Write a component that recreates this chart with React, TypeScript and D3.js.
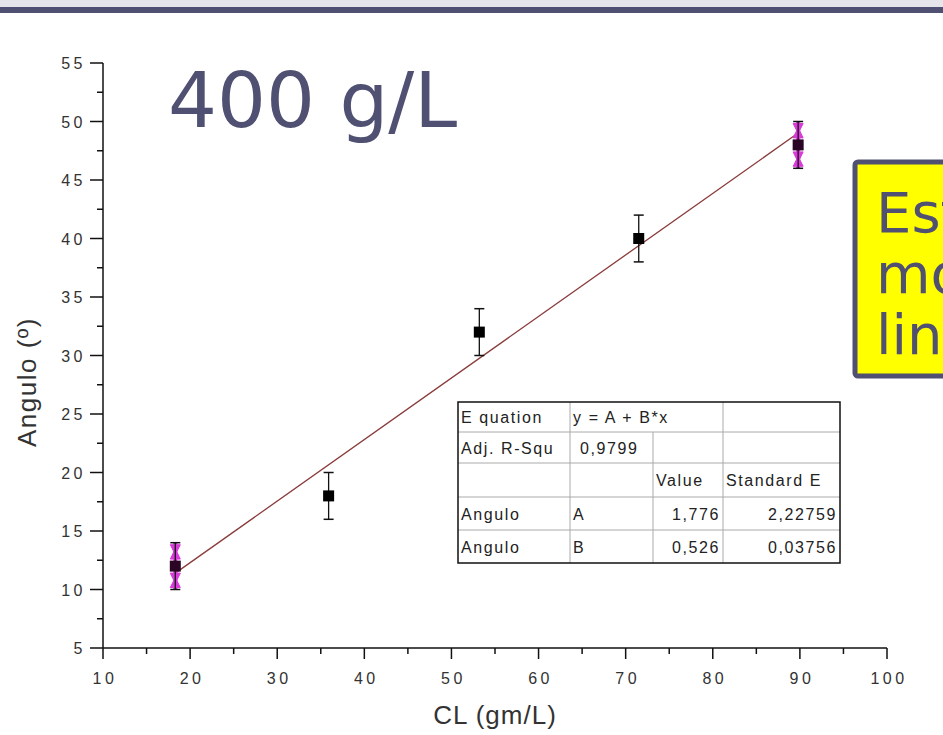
import React from "react";
import * as d3 from "d3";

// measured points
const cl = [18.3, 35.9, 53.2, 71.5, 89.8];
const angulo = [12, 18, 32, 40, 48];
const errs = [2, 2, 2, 2, 2];
const masked = [true, false, false, false, true];

// linear fit y = A + B*x
const fitA = 1.776;
const fitB = 0.526;

const xTicks = [10, 20, 30, 40, 50, 60, 70, 80, 90, 100];
const yTicks = [5, 10, 15, 20, 25, 30, 35, 40, 45, 50, 55];

const tableRows = [
  ["E quation", "y = A + B*x", "", ""],
  ["Adj. R-Squ", "0,9799", "", ""],
  ["", "", "Value", "Standard E"],
  ["Angulo", "A", "1,776", "2,22759"],
  ["Angulo", "B", "0,526", "0,03756"],
];

const noteLines = ["Este", "modelo", "lineal"];

const width = 943;
const height = 735;
const slate = "#4f5072";

const x = d3.scaleLinear().domain([10, 100]).range([103, 887]);
const y = d3.scaleLinear().domain([5, 55]).range([648, 63]);

const App = () => {
  const minorX = d3.range(15, 100, 10);
  const minorY = d3.range(7.5, 55, 5);
  const fitLine = d3
    .line<number>()
    .x((d) => x(d))
    .y((d) => y(fitA + fitB * d));

  const colX = [458, 570, 653, 723, 840];
  const rowY = [402, 432, 463, 497, 530, 563];
  const tick = { fill: "#333", fontSize: 16, fontFamily: "Liberation Sans, Arial", letterSpacing: 3.5 };

  return (
    <svg width={width} height={height} style={{ position: "absolute", left: 0, top: 0, background: "#fff" }}>
      <rect x={0} y={0} width={width} height={7} fill="#e6e6ea" />
      <rect x={0} y={7} width={width} height={6} fill={slate} />

      <text x={168} y={127} fontFamily="DejaVu Sans" fontSize={77} fill={slate}>
        400 g/L
      </text>

      {/* axes */}
      <line x1={103} x2={103} y1={y(55)} y2={y(5)} stroke="#111" strokeWidth={1.5} />
      <line x1={x(10)} x2={x(100)} y1={648} y2={648} stroke="#111" strokeWidth={1.5} />
      {yTicks.map((t) => (
        <g key={"y" + t}>
          <line x1={90} x2={103} y1={y(t)} y2={y(t)} stroke="#111" strokeWidth={1.5} />
          <text x={86} y={y(t) + 6} textAnchor="end" {...tick}>
            {t}
          </text>
        </g>
      ))}
      {minorY.map((t) => (
        <line key={"my" + t} x1={97} x2={103} y1={y(t)} y2={y(t)} stroke="#111" strokeWidth={1.5} />
      ))}
      {xTicks.map((t) => (
        <g key={"x" + t}>
          <line x1={x(t)} x2={x(t)} y1={648} y2={659} stroke="#111" strokeWidth={1.5} />
          <text x={x(t) + 2} y={684} textAnchor="middle" {...tick}>
            {t}
          </text>
        </g>
      ))}
      {minorX.map((t) => (
        <line key={"mx" + t} x1={x(t)} x2={x(t)} y1={648} y2={654} stroke="#111" strokeWidth={1.5} />
      ))}

      <text
        transform="translate(36,382) rotate(-90)"
        textAnchor="middle"
        fontFamily="Liberation Sans, Arial"
        fontSize={26}
        letterSpacing={1.5}
        fill="#333"
      >
        Angulo (º)
      </text>
      <text
        x={495}
        y={724}
        textAnchor="middle"
        fontFamily="Liberation Sans, Arial"
        fontSize={26}
        letterSpacing={1}
        fill="#333"
      >
        CL (gm/L)
      </text>

      {/* fit */}
      <path d={fitLine([cl[0], cl[cl.length - 1]]) || ""} stroke="#8a3b3b" strokeWidth={1.3} fill="none" />

      {/* points with error bars */}
      {cl.map((c, i) => {
        const cx = x(c);
        const top = y(angulo[i] + errs[i]);
        const bot = y(angulo[i] - errs[i]);
        const cy = y(angulo[i]);
        return (
          <g key={"p" + i}>
            {masked[i] && (
              <g fill="#d93ad9" stroke="#d93ad9">
                <line x1={cx} x2={cx} y1={top} y2={bot} strokeWidth={4} />
                <path d={`M${cx - 5},${top + 2} L${cx + 5},${top + 2} L${cx},${top + 12} Z`} strokeWidth={1} />
                <path d={`M${cx - 5},${cy - 7} L${cx + 5},${cy - 7} L${cx},${top + 6} Z`} strokeWidth={1} />
                <path d={`M${cx - 5},${bot - 2} L${cx + 5},${bot - 2} L${cx},${bot - 12} Z`} strokeWidth={1} />
                <path d={`M${cx - 5},${cy + 7} L${cx + 5},${cy + 7} L${cx},${bot - 6} Z`} strokeWidth={1} />
              </g>
            )}
            <line x1={cx} x2={cx} y1={top} y2={bot} stroke="#111" strokeWidth={1.3} />
            <line x1={cx - 5} x2={cx + 5} y1={top} y2={top} stroke="#111" strokeWidth={1.5} />
            <line x1={cx - 5} x2={cx + 5} y1={bot} y2={bot} stroke="#111" strokeWidth={1.5} />
            <rect x={cx - 5.5} y={cy - 5.5} width={11} height={11} fill={masked[i] ? "#2a0624" : "#000"} />
          </g>
        );
      })}

      {/* fit table */}
      <g fontFamily="Liberation Sans, Arial" fontSize={16} fill="#222">
        <rect x={colX[0]} y={rowY[0]} width={colX[4] - colX[0]} height={rowY[5] - rowY[0]} fill="#fff" />
        {rowY.slice(1, 5).map((ry) => (
          <line key={"r" + ry} x1={colX[0]} x2={colX[4]} y1={ry} y2={ry} stroke="#aaa" />
        ))}
        {colX.slice(1, 4).map((cx, ci) => (
          <line
            key={"c" + cx}
            x1={cx}
            x2={cx}
            y1={ci === 1 ? rowY[1] : rowY[0]}
            y2={rowY[5]}
            stroke="#aaa"
          />
        ))}
        <rect
          x={colX[0]}
          y={rowY[0]}
          width={colX[4] - colX[0]}
          height={rowY[5] - rowY[0]}
          fill="none"
          stroke="#111"
          strokeWidth={1.5}
        />
        {tableRows.map((row, ri) =>
          row.map((cell, ci) => {
            if (!cell) return null;
            const ty = (rowY[ri] + rowY[ri + 1]) / 2 + 6;
            const numeric = ri >= 3 && ci >= 2;
            const tx = numeric ? colX[ci + 1] - 3 : ri === 1 && ci === 1 ? colX[ci] + 10 : colX[ci] + 3;
            return (
              <text key={ri + "-" + ci} x={tx} y={ty} textAnchor={numeric ? "end" : "start"} letterSpacing={1.6}>
                {cell}
              </text>
            );
          })
        )}
      </g>

      {/* note box */}
      <rect x={855} y={162} width={120} height={214} rx={3} fill="#ffff00" stroke={slate} strokeWidth={5} />
      {noteLines.map((l, i) => (
        <text key={l} x={876} y={232 + i * 61} fontFamily="DejaVu Sans" fontSize={56} fill={slate}>
          {l}
        </text>
      ))}
    </svg>
  );
};

export default App;
